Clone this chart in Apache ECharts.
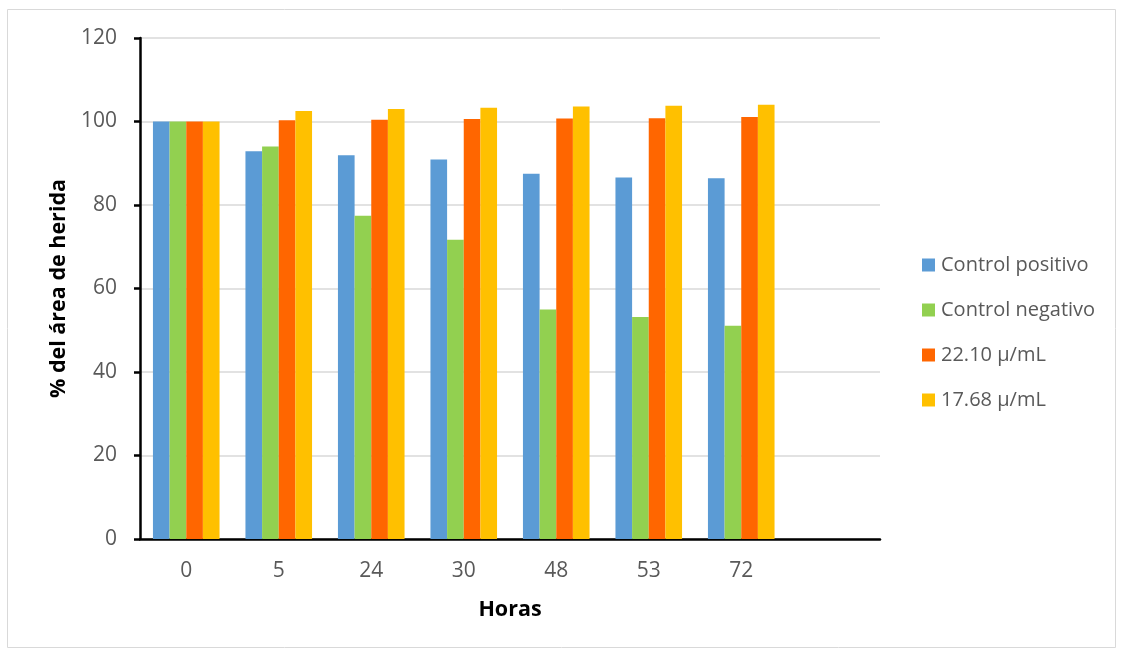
<!DOCTYPE html>
<html>
<head>
<meta charset="utf-8">
<script src="https://cdn.jsdelivr.net/npm/echarts@6/dist/echarts.min.js"></script>
<style>
  html, body { margin: 0; padding: 0; background: #fff; }
  #chart { width: 1123px; height: 651px; }
</style>
</head>
<body>
<div id="chart"></div>
<script>
// Hours after wounding; the trailing empty slot leaves room on the right
const categories = ['0', '5', '24', '30', '48', '53', '72', ''];
const seriesNames = ['Control positivo', 'Control negativo', '22.10 \u03bc/mL', '17.68 \u03bc/mL'];
const controlPositivo = [100, 92.9, 91.9, 90.9, 87.5, 86.6, 86.4];
const controlNegativo = [100, 94.0, 77.4, 71.7, 55.0, 53.2, 51.1];
const dosis2210 = [100, 100.3, 100.4, 100.6, 100.7, 100.8, 101.1];
const dosis1768 = [100, 102.5, 103.0, 103.3, 103.6, 103.8, 104.0];
const colors = ['#5B9BD5', '#92D050', '#FF6600', '#FFC000'];

const font = 'Open Sans, Liberation Sans, sans-serif';
const chart = echarts.init(document.getElementById('chart'));

const values = [controlPositivo, controlNegativo, dosis2210, dosis1768];
const series = values.map((arr, i) => ({
  name: seriesNames[i],
  type: 'bar',
  data: arr,
  barGap: '0%',
  barCategoryGap: '28%',
  itemStyle: { color: colors[i] },
  emphasis: { disabled: true }
}));

chart.setOption({
  animation: false,
  color: colors,
  graphic: [{
    type: 'rect',
    shape: { x: 7.5, y: 9.5, width: 1108, height: 638 },
    style: { fill: 'none', stroke: '#D9D9D9', lineWidth: 1 },
    silent: true
  }],
  grid: { left: 140, right: 243, top: 38, bottom: 112, containLabel: false },
  legend: {
    orient: 'vertical',
    left: 922,
    top: 255,
    padding: 0,
    itemWidth: 13,
    itemHeight: 13,
    itemGap: 25,
    icon: 'rect',
    textStyle: { fontFamily: font, fontSize: 20, color: '#595959', padding: [0, 0, 0, 1] },
    data: seriesNames
  },
  xAxis: {
    type: 'category',
    data: categories,
    name: 'Horas',
    nameLocation: 'middle',
    nameGap: 60,
    nameTextStyle: { fontFamily: font, fontSize: 21.5, fontWeight: 'bold', color: '#000' },
    axisLine: { lineStyle: { color: '#000', width: 2.5 } },
    axisTick: { show: false },
    axisLabel: { fontFamily: font, fontSize: 21, color: '#595959', margin: 22 }
  },
  yAxis: {
    type: 'value',
    min: 0,
    max: 120,
    interval: 20,
    name: '% del \u00e1rea de herida',
    nameLocation: 'middle',
    nameGap: 69,
    nameTextStyle: { fontFamily: font, fontSize: 21.5, fontWeight: 'bold', color: '#000' },
    axisLine: { show: true, lineStyle: { color: '#000', width: 2.5 } },
    axisTick: { show: true, length: 6, lineStyle: { color: '#000', width: 2.5 } },
    axisLabel: { fontFamily: font, fontSize: 21, color: '#595959', margin: 23 },
    splitLine: { lineStyle: { color: '#D9D9D9', width: 1.5 } }
  },
  series: series
});
</script>
</body>
</html>
